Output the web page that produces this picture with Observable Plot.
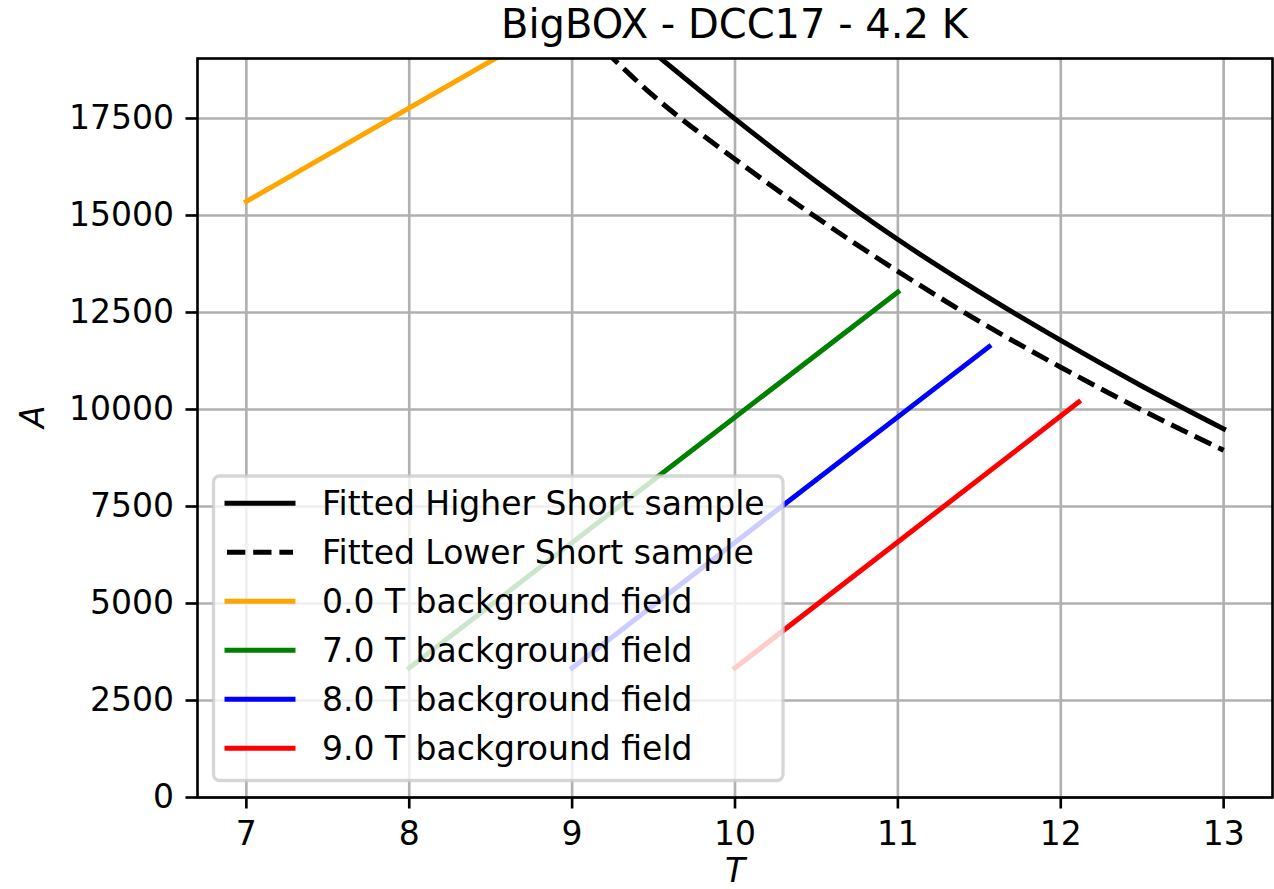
<!DOCTYPE html>
<html>
<head>
<meta charset="utf-8">
<script src="https://cdn.jsdelivr.net/npm/d3@7"></script>
<script src="https://cdn.jsdelivr.net/npm/@observablehq/plot@0.6"></script>
<style>
  html, body { margin: 0; padding: 0; background: #fff; }
  #wrap { position: relative; width: 1274px; height: 889px; overflow: hidden; font-family: "DejaVu Sans"; background: #fff; }
  #title { position: absolute; left: 197px; top: 4px; width: 1075px; height: 40px; line-height: 40px;
           text-align: center; font-size: 40px; color: #000; white-space: nowrap; z-index: 3; }
  #chart { position: absolute; left: 0; top: 40px; z-index: 1; }
  #legend { position: absolute; left: 0; top: 0; pointer-events: none; z-index: 2; }
</style>
</head>
<body>
<div id="wrap">
  <div id="chart"></div>
  <div id="title"></div>
</div>
<script>
// ---- data ----
const titleText = "BigBOX - DCC17 - 4.2 K";
const xLabel = "T";
const yLabel = "A";
const xTicks = [7, 8, 9, 10, 11, 12, 13];
const yTicks = [0, 2500, 5000, 7500, 10000, 12500, 15000, 17500];

// Fitted Higher Short sample (solid black)
const higherT = [9.5, 10, 10.5, 11, 11.5, 12, 12.5, 13];
const higherA = [19200, 17490, 15870, 14380, 13030, 11780, 10600, 9500];
// Fitted Lower Short sample (dashed black)
const lowerT = [9.2, 9.5, 10, 10.5, 11, 11.5, 12, 12.5, 13];
const lowerA = [19250, 18080, 16450, 14950, 13560, 12270, 11090, 9980, 8950];

// background field load lines
const fieldNames = ["0.0 T background field", "7.0 T background field", "8.0 T background field", "9.0 T background field"];
const fieldColors = ["orange", "green", "blue", "red"];
const fieldT = [[7, 8.53], [8, 11], [9, 11.56], [10, 12.11]];
const fieldA = [[15360, 19050], [3340, 13030], [3340, 11620], [3340, 10190]];

const fitNames = ["Fitted Higher Short sample", "Fitted Lower Short sample"];

// ---- build tables ----
const higher = higherT.map((t, i) => ({T: t, A: higherA[i]}));
const lower = lowerT.map((t, i) => ({T: t, A: lowerA[i]}));
const fields = fieldNames.map((name, k) => fieldT[k].map((t, i) => ({T: t, A: fieldA[k][i], name})));

const LW = 5;
const GRID = "#b0b0b0";
const DASH = "18.3,7.9";

const marks = [
  Plot.gridX(xTicks, {stroke: GRID, strokeOpacity: 1, strokeWidth: 2.64}),
  Plot.gridY(yTicks, {stroke: GRID, strokeOpacity: 1, strokeWidth: 2.64}),
  Plot.line(higher, {x: "T", y: "A", stroke: "black", strokeWidth: LW, curve: "monotone-x", clip: true, strokeLinecap: "square"}),
  Plot.line(lower, {x: "T", y: "A", stroke: "black", strokeWidth: LW, curve: "monotone-x", clip: true, strokeDasharray: DASH, strokeLinecap: "butt"}),
  ...fields.map((f, k) => Plot.line(f, {x: "T", y: "A", stroke: fieldColors[k], strokeWidth: LW, clip: true, strokeLinecap: "square"})),
  Plot.frame({stroke: "black", strokeWidth: 2.64}),
  Plot.axisX(xTicks, {tickSize: 11.5, tickPadding: 13, tickFormat: d => String(d), label: null, strokeWidth: 2.64}),
  Plot.axisY(yTicks, {tickSize: 11.5, tickPadding: 12, tickFormat: d => String(d), label: null, strokeWidth: 2.64}),
  Plot.text([xLabel], {frameAnchor: "bottom", dy: 84, text: d => d, fontStyle: "italic"}),
  Plot.text([yLabel], {frameAnchor: "left", dx: -164, rotate: -90, text: d => d, fontStyle: "italic"})
];

const chart = Plot.plot({
  width: 1274,
  height: 849,
  marginTop: 18,
  marginRight: 2,
  marginBottom: 92,
  marginLeft: 197,
  style: {fontFamily: "DejaVu Sans", fontSize: "33px", color: "black", background: "transparent", overflow: "visible"},
  x: {domain: [6.7, 13.3]},
  y: {domain: [0, 19046]},
  marks
});
document.getElementById("chart").appendChild(chart);
document.getElementById("title").textContent = titleText;

// ---- legend (matplotlib-style box, lower left) ----
const legendItems = [
  {name: fitNames[0], color: "black", dash: null},
  {name: fitNames[1], color: "black", dash: DASH},
  ...fieldNames.map((n, k) => ({name: n, color: fieldColors[k], dash: null}))
];
const svg = d3.select("#wrap").append("svg")
  .attr("id", "legend").attr("width", 1274).attr("height", 889);
svg.append("rect")
  .attr("x", 213.5).attr("y", 476).attr("width", 569.5).attr("height", 304.5)
  .attr("rx", 6).attr("ry", 6)
  .attr("fill", "white").attr("fill-opacity", 0.8)
  .attr("stroke", "#cccccc").attr("stroke-opacity", 0.8).attr("stroke-width", 3.3);
const rows = svg.selectAll("g.row").data(legendItems).join("g")
  .attr("transform", (d, i) => `translate(0,${503.3 + i * 49})`);
rows.append("line")
  .attr("x1", 227).attr("x2", 293).attr("y1", 0).attr("y2", 0)
  .attr("stroke", d => d.color).attr("stroke-width", LW)
  .attr("stroke-dasharray", d => d.dash)
  .attr("stroke-linecap", d => d.dash ? "butt" : "square");
rows.append("text")
  .attr("x", 322).attr("y", 12)
  .attr("font-family", "DejaVu Sans").attr("font-size", 33).attr("fill", "black")
  .text(d => d.name);
</script>
</body>
</html>
